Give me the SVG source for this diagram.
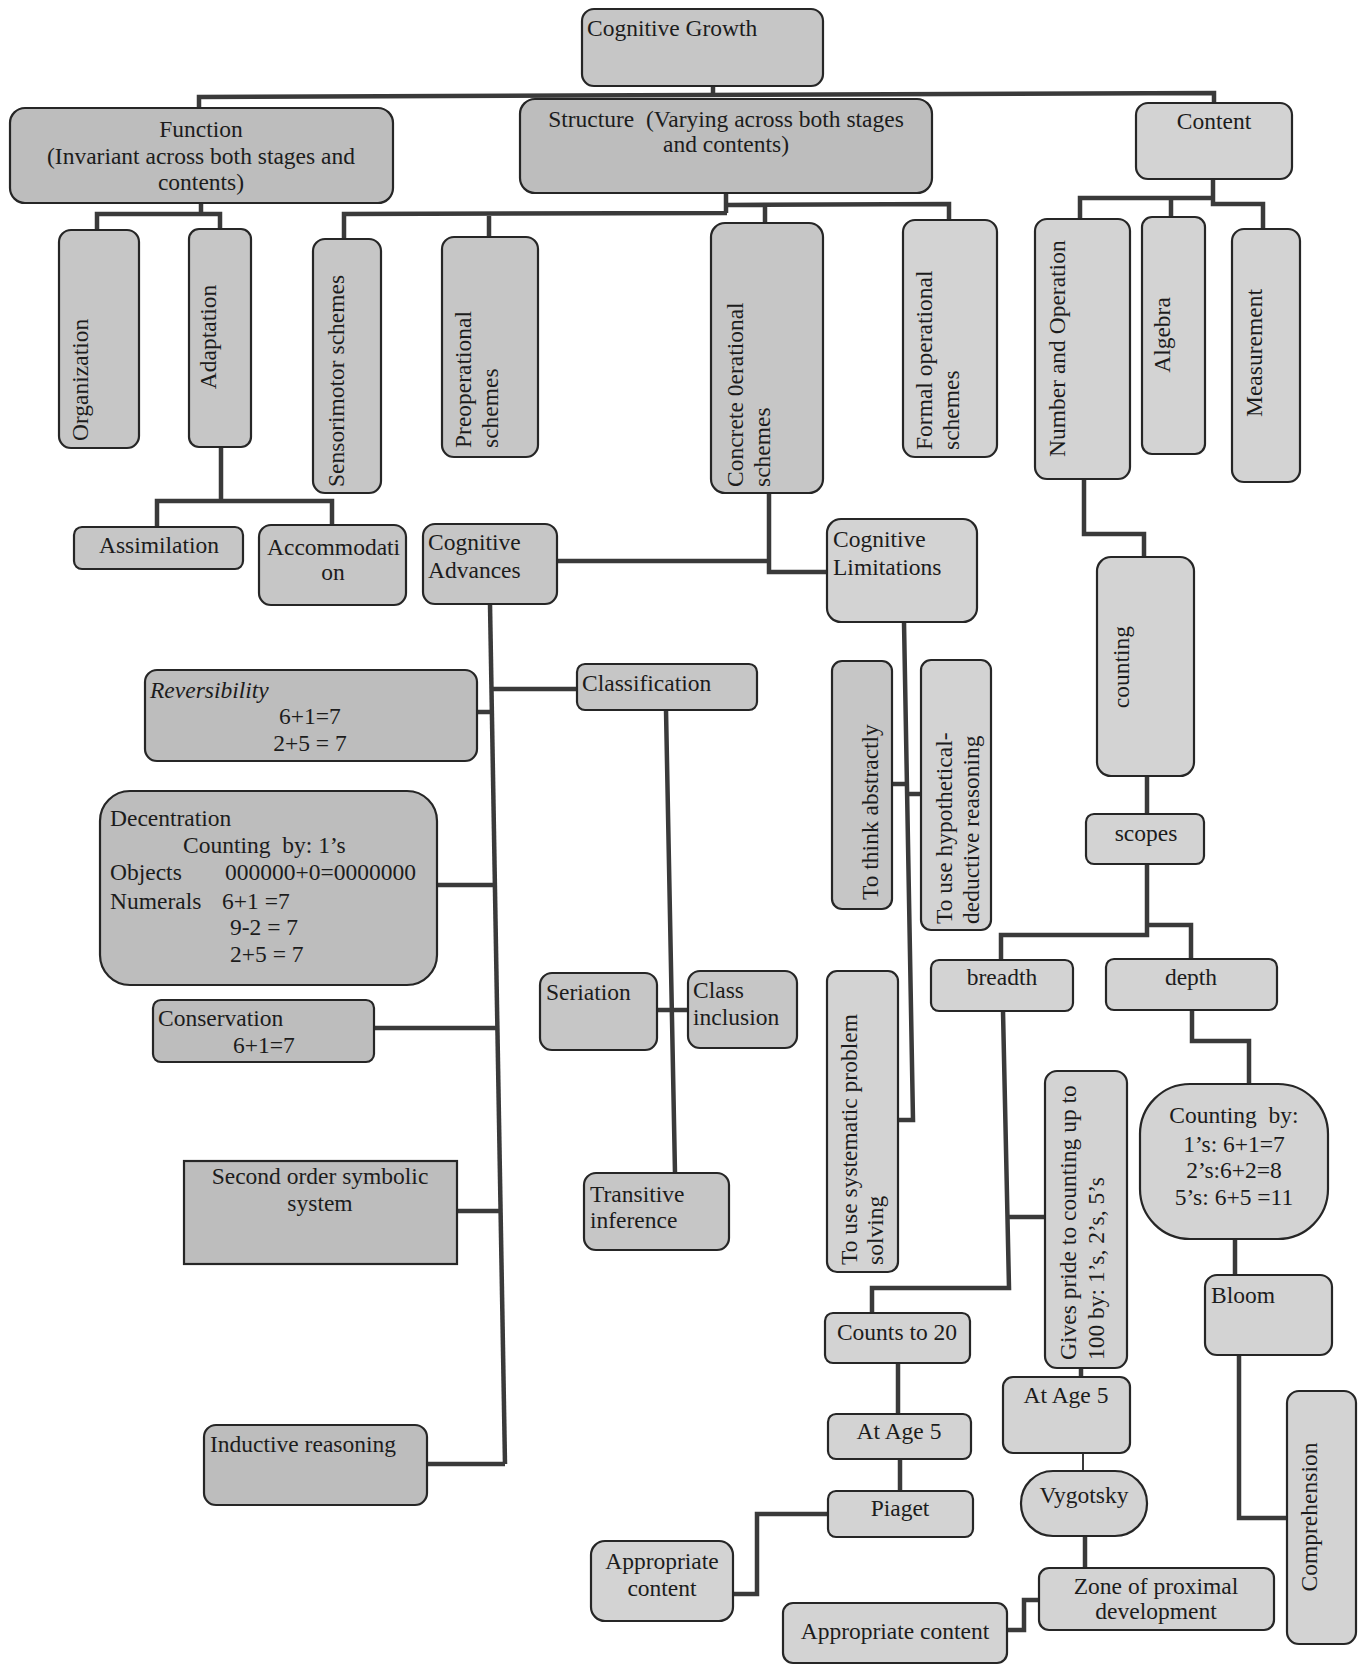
<svg xmlns="http://www.w3.org/2000/svg" width="1364" height="1667" viewBox="0 0 1364 1667">
<style>
.n rect{fill:#c6c6c6;stroke:#262626;stroke-width:2.2}
.lt rect{fill:#d3d3d3}
.dk rect{fill:#bdbdbd}
text{font-family:"Liberation Serif","Times New Roman",serif;font-size:23.5px;fill:#1c1c1c;white-space:pre}
.m{text-anchor:middle}
#connectors path{fill:none;stroke:#3a3a3a;stroke-width:4.5;stroke-linejoin:miter;stroke-linecap:butt}
#connectors path.thin{stroke-width:2}
</style>
<rect width="1364" height="1667" fill="#ffffff"/>
<g id="connectors">
<path d="M713,86V97"/>
<path d="M199,108V97L1214,93V103"/>
<path d="M201,203V214M97,230V214H220V229"/>
<path d="M221,447V501M157,527V501H332V525"/>
<path d="M726,193V213M344,239V214L727,213M489,213V237"/>
<path d="M727,205L949,204V220M765,205V223"/>
<path d="M1213,179V204H1263V229M1080,219V198H1213M1171,198V217"/>
<path d="M1084,479V534H1144V557"/>
<path d="M769,493V572H827M557,561H769"/>
<path d="M490,604L505,1464"/>
<path d="M491,689H577M477,712H492M437,885H495M374,1028H497M457,1211H501M427,1464H505"/>
<path d="M666,710L675,1173M657,1010H688"/>
<path d="M904,622L913,1120H898M892,784H907M907,794H921"/>
<path d="M1147,776V814"/>
<path d="M1147,864V935H1001V960M1147,925H1191V959"/>
<path d="M1003,1011L1009,1288H872V1313M1008,1217H1045"/>
<path d="M1192,1010V1041H1249V1084"/>
<path d="M1235,1239V1275"/>
<path d="M1239,1355V1518H1287"/>
<path d="M1081,1368V1377"/>
<path class="thin" d="M1083,1453V1471"/>
<path d="M1085,1536V1568"/>
<path d="M1039,1600H1024V1630H1007"/>
<path d="M898,1363V1414"/>
<path d="M900,1459V1491"/>
<path d="M828,1514H757V1594H733"/>
</g>

<g id="cognitive-growth" class="n"><rect x="582" y="9" width="241" height="77" rx="12"/><text x="587" y="36">Cognitive Growth</text></g>
<g id="function" class="n dk"><rect x="10" y="108" width="383" height="95" rx="15"/><text class="m" x="201" y="137">Function</text><text class="m" x="201" y="164">(Invariant across both stages and</text><text class="m" x="201" y="190">contents)</text></g>
<g id="structure" class="n dk"><rect x="520" y="99" width="412" height="94" rx="15"/><text class="m" x="726" y="127">Structure  (Varying across both stages</text><text class="m" x="726" y="152">and contents)</text></g>
<g id="content" class="n lt"><rect x="1136" y="103" width="156" height="76" rx="12"/><text class="m" x="1214" y="129">Content</text></g>

<g id="organization" class="n"><rect x="59" y="230" width="80" height="218" rx="12"/><text transform="translate(88,441) rotate(-90)">Organization</text></g>
<g id="adaptation" class="n"><rect x="189" y="229" width="62" height="218" rx="10"/><text class="m" transform="translate(216,337) rotate(-90)">Adaptation</text></g>
<g id="sensorimotor" class="n"><rect x="313" y="239" width="68" height="254" rx="12"/><text transform="translate(344,487) rotate(-90)">Sensorimotor schemes</text></g>
<g id="preoperational" class="n"><rect x="442" y="237" width="96" height="220" rx="12"/><text transform="translate(471,448) rotate(-90)">Preoperational</text><text transform="translate(498,448) rotate(-90)">schemes</text></g>
<g id="concrete" class="n"><rect x="711" y="223" width="112" height="270" rx="14"/><text transform="translate(743,487) rotate(-90)">Concrete 0erational</text><text transform="translate(770,487) rotate(-90)">schemes</text></g>
<g id="formal" class="n lt"><rect x="903" y="220" width="94" height="237" rx="12"/><text transform="translate(932,450) rotate(-90)">Formal operational</text><text transform="translate(959,450) rotate(-90)">schemes</text></g>
<g id="number-operation" class="n lt"><rect x="1035" y="219" width="95" height="260" rx="12"/><text transform="translate(1065,457) rotate(-90)">Number and Operation</text></g>
<g id="algebra" class="n lt"><rect x="1142" y="217" width="63" height="237" rx="10"/><text class="m" transform="translate(1170,335) rotate(-90)">Algebra</text></g>
<g id="measurement" class="n lt"><rect x="1232" y="229" width="68" height="253" rx="12"/><text class="m" transform="translate(1262,353) rotate(-90)">Measurement</text></g>

<g id="assimilation" class="n"><rect x="74" y="527" width="169" height="42" rx="8"/><text class="m" x="159" y="553">Assimilation</text></g>
<g id="accommodation" class="n"><rect x="259" y="525" width="147" height="80" rx="12"/><text x="267" y="555">Accommodati</text><text class="m" x="333" y="580">on</text></g>
<g id="cognitive-advances" class="n"><rect x="423" y="524" width="134" height="80" rx="12"/><text x="428" y="550">Cognitive</text><text x="428" y="578">Advances</text></g>
<g id="cognitive-limitations" class="n lt"><rect x="827" y="519" width="150" height="103" rx="14"/><text x="833" y="547">Cognitive</text><text x="833" y="575">Limitations</text></g>

<g id="reversibility" class="n dk"><rect x="145" y="670" width="332" height="91" rx="12"/><text x="150" y="698" font-style="italic">Reversibility</text><text class="m" x="310" y="724">6+1=7</text><text class="m" x="310" y="751">2+5 = 7</text></g>
<g id="classification" class="n"><rect x="577" y="664" width="180" height="46" rx="8"/><text x="582" y="691">Classification</text></g>
<g id="decentration" class="n dk"><rect x="100" y="791" width="337" height="194" rx="30"/><text x="110" y="826">Decentration</text><text x="183" y="853">Counting  by: 1’s</text><text x="110" y="880">Objects</text><text x="225" y="880">000000+0=0000000</text><text x="110" y="909">Numerals</text><text x="222" y="909">6+1 =7</text><text x="230" y="935">9-2 = 7</text><text x="230" y="962">2+5 = 7</text></g>
<g id="conservation" class="n dk"><rect x="153" y="1000" width="221" height="62" rx="8"/><text x="158" y="1026">Conservation</text><text x="233" y="1053">6+1=7</text></g>
<g id="seriation" class="n"><rect x="540" y="973" width="117" height="77" rx="12"/><text x="546" y="1000">Seriation</text></g>
<g id="class-inclusion" class="n"><rect x="688" y="971" width="109" height="77" rx="12"/><text x="693" y="998">Class</text><text x="693" y="1025">inclusion</text></g>
<g id="think-abstractly" class="n"><rect x="832" y="661" width="60" height="248" rx="10"/><text transform="translate(878,900) rotate(-90)">To think abstractly</text></g>
<g id="hypothetical" class="n lt"><rect x="921" y="660" width="70" height="270" rx="10"/><text transform="translate(952,924) rotate(-90)">To use hypothetical-</text><text transform="translate(979,924) rotate(-90)">deductive reasoning</text></g>
<g id="counting" class="n lt"><rect x="1097" y="557" width="97" height="219" rx="14"/><text class="m" transform="translate(1129,667) rotate(-90)">counting</text></g>
<g id="scopes" class="n lt"><rect x="1086" y="814" width="118" height="50" rx="8"/><text class="m" x="1146" y="841">scopes</text></g>
<g id="breadth" class="n lt"><rect x="931" y="960" width="142" height="51" rx="8"/><text class="m" x="1002" y="985">breadth</text></g>
<g id="depth" class="n lt"><rect x="1106" y="959" width="171" height="51" rx="8"/><text class="m" x="1191" y="985">depth</text></g>
<g id="systematic" class="n lt"><rect x="827" y="971" width="71" height="301" rx="10"/><text transform="translate(857,1265) rotate(-90)">To use systematic problem</text><text transform="translate(883,1265) rotate(-90)">solving</text></g>
<g id="counting-by" class="n lt"><rect x="1140" y="1084" width="188" height="155" rx="50"/><text class="m" x="1234" y="1123">Counting  by:</text><text class="m" x="1234" y="1152">1’s: 6+1=7</text><text class="m" x="1234" y="1178">2’s:6+2=8</text><text class="m" x="1234" y="1205">5’s: 6+5 =11</text></g>
<g id="second-order" class="n dk"><rect x="184" y="1161" width="273" height="103"/><text class="m" x="320" y="1184">Second order symbolic</text><text class="m" x="320" y="1211">system</text></g>
<g id="transitive" class="n"><rect x="584" y="1173" width="145" height="77" rx="12"/><text x="590" y="1202">Transitive</text><text x="590" y="1228">inference</text></g>
<g id="gives-pride" class="n lt"><rect x="1045" y="1071" width="82" height="297" rx="12"/><text transform="translate(1076,1360) rotate(-90)">Gives pride to counting up to</text><text transform="translate(1104,1360) rotate(-90)">100 by: 1’s, 2’s, 5’s</text></g>
<g id="bloom" class="n lt"><rect x="1205" y="1275" width="127" height="80" rx="12"/><text x="1211" y="1303">Bloom</text></g>
<g id="counts-20" class="n lt"><rect x="825" y="1313" width="145" height="50" rx="8"/><text class="m" x="897" y="1340">Counts to 20</text></g>
<g id="age5-left" class="n lt"><rect x="828" y="1414" width="143" height="45" rx="8"/><text class="m" x="899" y="1439">At Age 5</text></g>
<g id="age5-right" class="n lt"><rect x="1003" y="1377" width="127" height="76" rx="10"/><text class="m" x="1066" y="1403">At Age 5</text></g>
<g id="inductive" class="n dk"><rect x="204" y="1425" width="223" height="80" rx="12"/><text x="210" y="1452">Inductive reasoning</text></g>
<g id="vygotsky" class="n lt"><rect x="1021" y="1471" width="126" height="65" rx="32"/><text class="m" x="1084" y="1503">Vygotsky</text></g>
<g id="piaget" class="n lt"><rect x="828" y="1491" width="145" height="46" rx="8"/><text class="m" x="900" y="1516">Piaget</text></g>
<g id="comprehension" class="n lt"><rect x="1287" y="1391" width="69" height="253" rx="12"/><text class="m" transform="translate(1317,1517) rotate(-90)">Comprehension</text></g>
<g id="appropriate-left" class="n lt"><rect x="591" y="1541" width="142" height="80" rx="14"/><text class="m" x="662" y="1569">Appropriate</text><text class="m" x="662" y="1596">content</text></g>
<g id="zone" class="n lt"><rect x="1039" y="1568" width="235" height="62" rx="10"/><text class="m" x="1156" y="1594">Zone of proximal</text><text class="m" x="1156" y="1619">development</text></g>
<g id="appropriate-right" class="n lt"><rect x="783" y="1603" width="224" height="60" rx="10"/><text class="m" x="895" y="1639">Appropriate content</text></g>
</svg>
